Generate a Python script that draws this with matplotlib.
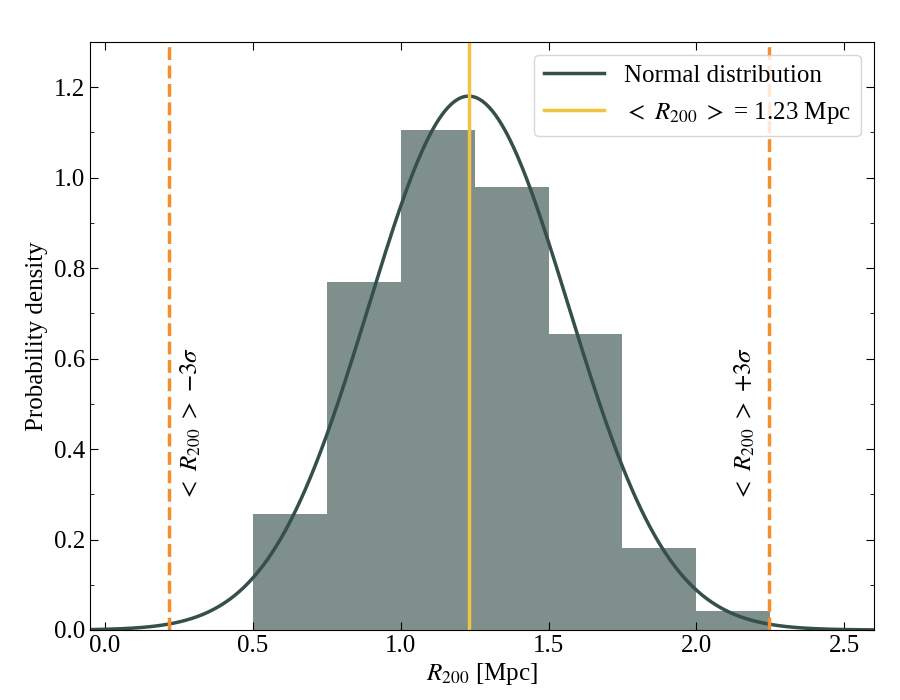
import numpy as np
import matplotlib
matplotlib.use("Agg")
import matplotlib.pyplot as plt

plt.rcParams['font.family'] = ['Liberation Serif', 'DejaVu Serif']
plt.rcParams['mathtext.fontset'] = 'stix'

# histogram bins and densities
bin_edges = [0.5, 0.75, 1.0, 1.25, 1.5, 1.75, 2.0, 2.25]
densities = [0.256, 0.769, 1.105, 0.979, 0.654, 0.181, 0.042]

# fitted normal distribution
mu = 1.23
sigma = 0.338

x = np.linspace(-0.05, 2.6, 500)
pdf = np.exp(-0.5 * ((x - mu) / sigma) ** 2) / (sigma * np.sqrt(2 * np.pi))

fig, ax = plt.subplots(figsize=(9, 7), dpi=100)
fig.subplots_adjust(left=0.1, right=0.971, top=0.94, bottom=0.1)

ax.bar(bin_edges[:-1], densities, width=np.diff(bin_edges), align='edge',
       color='#7e8f8c', linewidth=0)
ax.plot(x, pdf, color='#354f4b', lw=2.5, label='Normal distribution')
ax.axvline(mu, color='#f0c440', lw=2.5,
           label=r'$<\ R_{200}\ >$ = 1.23 Mpc')
ax.axvline(mu - 3 * sigma, color='#f28e2b', lw=2.5, ls='--')
ax.axvline(mu + 3 * sigma, color='#f28e2b', lw=2.5, ls='--')

ax.text(mu - 3 * sigma + 0.075, 0.285, r'$<\ R_{200}\ >\ {-}3\sigma$', rotation=90,
        ha='center', va='bottom', fontsize=18)
ax.text(mu + 3 * sigma - 0.08, 0.285, r'$<\ R_{200}\ >\ {+}3\sigma$', rotation=90,
        ha='center', va='bottom', fontsize=18)

ax.set_xlim(-0.05, 2.6)
ax.set_ylim(0, 1.3)
ax.set_xlabel(r'$R_{200}$ [Mpc]', fontsize=18, labelpad=3)
ax.set_ylabel('Probability density', fontsize=18)
ax.set_xticks([0.0, 0.5, 1.0, 1.5, 2.0, 2.5])
ax.set_yticks([0.0, 0.2, 0.4, 0.6, 0.8, 1.0, 1.2])
ax.set_yticks(np.arange(0.1, 1.3, 0.2), minor=True)
ax.tick_params(which='both', direction='in', top=True, right=True, labelsize=18)
ax.tick_params(which='major', length=6)
ax.tick_params(which='minor', length=3)

ax.legend(loc='upper right', fontsize=18, handlelength=2.4)

plt.savefig('out.png')
